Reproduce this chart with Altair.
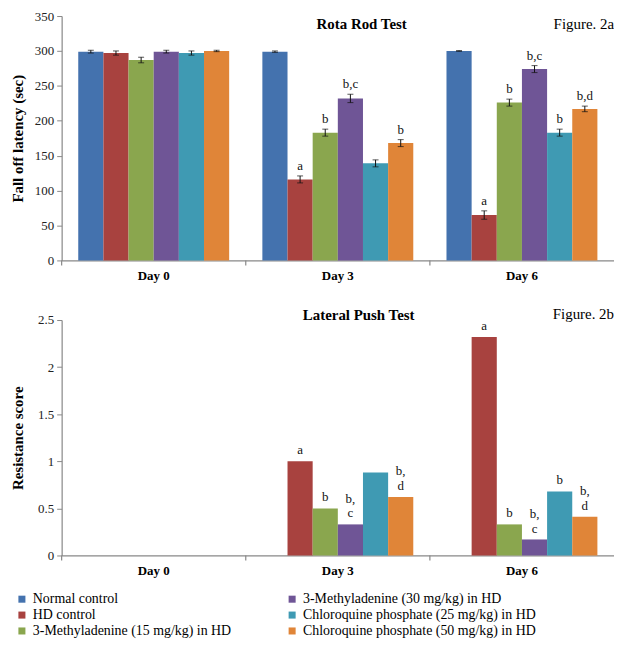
import altair as alt
import pandas as pd

days = ["Day 0", "Day 3", "Day 6"]
groups = [
    "Normal control",
    "HD control",
    "3-Methyladenine (15 mg/kg) in HD",
    "3-Methyladenine (30 mg/kg) in HD",
    "Chloroquine phosphate (25 mg/kg) in HD",
    "Chloroquine phosphate (50 mg/kg) in HD",
]
colors = ["#4472AE", "#A8423F", "#8AA64E", "#6F5596", "#3F9AB3", "#E08538"]

# Rota rod (per day, per group)
rota_mean = [
    [299, 297, 287, 299, 297, 300],
    [299, 116, 183, 232, 139, 168],
    [300, 65, 226, 274, 183, 217],
]
rota_err = [
    [2, 3, 4, 2, 3, 1],
    [1, 5, 5, 6, 5, 5],
    [0.5, 6, 5, 5, 5, 4],
]
rota_lbl = [
    ["", "", "", "", "", ""],
    ["", "a", "b", "b,c", "", "b"],
    ["", "a", "b", "b,c", "b", "b,d"],
]

# Lateral push
push_mean = [
    [0, 0, 0, 0, 0, 0],
    [0, 1.0, 0.5, 0.33, 0.88, 0.62],
    [0, 2.32, 0.33, 0.17, 0.68, 0.41],
]
# significance letters, upper and lower line
push_lbl_top = [
    ["", "", "", "", "", ""],
    ["", "", "", "b,", "", "b,"],
    ["", "", "", "b,", "", "b,"],
]
push_lbl_bot = [
    ["", "", "", "", "", ""],
    ["", "a", "b", "c", "", "d"],
    ["", "a", "b", "c", "b", "d"],
]

rows_r, rows_p = [], []
for i, d in enumerate(days):
    for j, g in enumerate(groups):
        m, e = rota_mean[i][j], rota_err[i][j]
        rows_r.append(dict(day=d, group=g, val=m, lo=m - e, hi=m + e, lbl=rota_lbl[i][j]))
        rows_p.append(dict(day=d, group=g, val=push_mean[i][j],
                           l1=push_lbl_top[i][j], l2=push_lbl_bot[i][j]))
df_r = pd.DataFrame(rows_r)
df_p = pd.DataFrame(rows_p)
df_days = pd.DataFrame({"day": days})

FONT = "Liberation Serif"
W = 556

xscale = alt.Scale(domain=days, paddingInner=0, paddingOuter=0)
xoff = alt.XOffset("group:N", sort=groups, scale=alt.Scale(domain=groups, paddingOuter=0.66, paddingInner=0))
color = alt.Color(
    "group:N",
    sort=groups,
    scale=alt.Scale(domain=groups, range=colors),
    legend=alt.Legend(
        title=None, orient="none", legendX=-47, legendY=580, columns=2, columnPadding=54,
        symbolType="square", symbolSize=50, symbolStrokeWidth=0, labelFont=FONT,
        labelFontSize=14, labelColor="#000", rowPadding=2, labelOffset=4, labelLimit=400,
    ),
)

XAX = alt.Axis(title=None, ticks=False, labelFont=FONT, labelFontWeight="bold",
               labelFontSize=13, labelColor="#000", labelPadding=9, labelAngle=0,
               domainColor="#888", domainWidth=1.2)


def yaxis(title, vals, fmt):
    return alt.Axis(title=title, values=vals, format=fmt, grid=False, tickSize=5,
                    tickColor="#888", domainColor="#888", domainWidth=1.2,
                    labelFont=FONT, labelFontSize=13, labelColor="#222", labelPadding=3,
                    labelOverlap=False,
                    titleFont=FONT, titleFontSize=15, titleFontWeight="bold", titleColor="#000",
                    minExtent=32, maxExtent=32, titlePadding=4)


def boundary_ticks(h):
    return alt.Chart(df_days).mark_rule(color="#888", strokeWidth=1.2).encode(
        x=alt.X("day:N", bandPosition=0, scale=xscale, axis=XAX),
        y=alt.value(h), y2=alt.value(h + 5),
    )


def title_text(txt, y, bold, x):
    return alt.Chart(df_days.head(1)).mark_text(
        text=txt, font=FONT, fontSize=15, fontWeight="bold" if bold else "normal",
        align="center" if bold else "right", baseline="middle", color="#000",
    ).encode(x=alt.value(x), y=alt.value(y))


X = alt.X("day:N", scale=xscale, axis=XAX, sort=days)

H1 = 246
yr = alt.Scale(domain=[0, 350], nice=False)
YAX1 = yaxis("Fall off latency (sec)", [0, 50, 100, 150, 200, 250, 300, 350], "d")
base_r = alt.Chart(df_r)
bars_r = base_r.mark_bar(width={"band": 1}).encode(
    x=X, xOffset=xoff,
    y=alt.Y("val:Q", scale=yr, axis=YAX1),
    color=color,
)
err_r = base_r.mark_rule(color="#111", strokeWidth=1).encode(
    x=X, xOffset=xoff, y=alt.Y("lo:Q", scale=yr, axis=YAX1), y2="hi:Q",
)
caplo = base_r.mark_tick(color="#111", size=6, thickness=1, orient="horizontal").encode(
    x=X, xOffset=xoff, y=alt.Y("lo:Q", scale=yr, axis=YAX1),
)
caphi = base_r.mark_tick(color="#111", size=6, thickness=1, orient="horizontal").encode(
    x=X, xOffset=xoff, y=alt.Y("hi:Q", scale=yr, axis=YAX1),
)
lbl_r = base_r.mark_text(font=FONT, fontSize=13, baseline="bottom", dy=-3, color="#111").encode(
    x=X, xOffset=xoff, y=alt.Y("hi:Q", scale=yr, axis=YAX1), text="lbl:N",
)
top = alt.layer(
    bars_r, err_r, caplo, caphi, lbl_r, boundary_ticks(H1),
    title_text("Rota Rod Test", 8, True, 302),
    title_text("Figure. 2a", 8, False, 556),
).properties(width=W, height=H1)

H2 = 237
yp = alt.Scale(domain=[0, 2.5], nice=False)
YAX2 = yaxis("Resistance score", [0, 0.5, 1, 1.5, 2, 2.5], "~g")
base_p = alt.Chart(df_p)
bars_p = base_p.mark_bar(width={"band": 1}).encode(
    x=X, xOffset=xoff,
    y=alt.Y("val:Q", scale=yp, axis=YAX2),
    color=color,
)
lbl_p1 = base_p.mark_text(font=FONT, fontSize=13, baseline="bottom", dy=-19, color="#111").encode(
    x=X, xOffset=xoff, y=alt.Y("val:Q", scale=yp, axis=YAX2), text="l1:N",
)
lbl_p2 = base_p.mark_text(font=FONT, fontSize=13, baseline="bottom", dy=-4, color="#111").encode(
    x=X, xOffset=xoff, y=alt.Y("val:Q", scale=yp, axis=YAX2), text="l2:N",
)
bottom = alt.layer(
    bars_p, lbl_p1, lbl_p2, boundary_ticks(H2),
    title_text("Lateral Push Test", -5, True, 299),
    title_text("Figure. 2b", -6, False, 556),
).properties(width=W, height=H2)

chart = alt.vconcat(top, bottom, spacing=23).properties(
    padding={"left": 3, "top": 0, "right": 0, "bottom": 0}
).configure_view(stroke=None)

chart.save("out.html", embed_options={"renderer": "svg", "actions": False})
